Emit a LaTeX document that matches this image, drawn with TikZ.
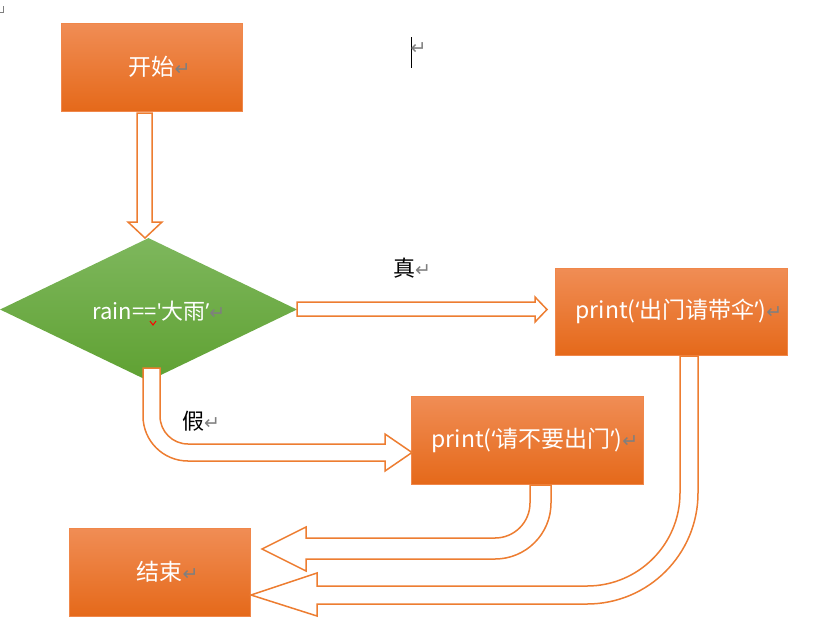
\documentclass[tikz,border=0pt]{standalone}
\usepackage{fontspec}
\setmainfont{Noto Sans CJK SC}
\newfontfamily\qf{Open Sans}
\newfontfamily\symf{DejaVu Sans}
\usetikzlibrary{shapes.geometric}
\definecolor{boxtop}{HTML}{F08D55}
\definecolor{boxmid}{HTML}{F37C28}
\definecolor{boxbot}{HTML}{E5691A}
\definecolor{boxline}{HTML}{F0874A}
\definecolor{greentop}{HTML}{7EB75D}
\definecolor{greenbot}{HTML}{5FA132}
\definecolor{arrline}{HTML}{ED7D31}
\definecolor{retgray}{HTML}{7F7F7F}
\newcommand\retmark{\rlap{{\symf\color{retgray}\fontsize{19}{19}\selectfont ↵}}}
\newcommand\myLq{{\qf ‘}}
\newcommand\myRq{{\qf ’}}
\tikzset{
  flowbox/.style={rectangle, draw=boxline, line width=0.8pt, top color=boxtop, middle color=boxmid, bottom color=boxbot, text=white, font=\fontsize{23}{26}\selectfont, inner sep=0pt},
  decision/.style={diamond, draw=none, top color=greentop, bottom color=greenbot, inner sep=0pt, minimum width=297pt, minimum height=143pt},
  blockarrow/.style={draw=arrline, fill=white, line width=1.5pt, line join=miter},
  lbl/.style={text=black, font=\fontsize{22}{26}\selectfont, inner sep=0pt}
}
\begin{document}
\begin{tikzpicture}[x=1pt,y=-1pt]
\useasboundingbox (0,0) rectangle (832,641);
% nodes
\node[flowbox, minimum width=181pt, minimum height=88pt] (start) at (151.5,67) {开始\retmark};
\node[decision] (cond) at (148.5,309.5) {};
\node[inner sep=0pt, text=white, font=\fontsize{22}{24}\selectfont] (condtext) at (151,311) {rain=={\qf '}大雨\myRq\retmark};
\node[flowbox, minimum width=232pt, minimum height=87pt] (yes) at (671,311.5) {print(\myLq 出门请带伞\myRq)\retmark};
\node[flowbox, minimum width=232pt, minimum height=88pt] (no) at (527,440) {print(\myLq 请不要出门\myRq)\retmark};
\node[flowbox, minimum width=181pt, minimum height=88pt] (stop) at (159.5,572) {结束\retmark};
\node[lbl] (ltrue) at (404,268) {真\retmark};
\node[lbl] (lfalse) at (193,421) {假\retmark};
% block arrows
\draw[blockarrow] (137,113) -- (152,113) -- (152,222) -- (162,222) -- (145,238) -- (128,222) -- (137,222) -- cycle;
\draw[blockarrow] (297,302) -- (535,302) -- (535,297) -- (547,309.5) -- (535,322) -- (535,316) -- (297,316) -- cycle;
\draw[blockarrow] (143,368) -- (160,368) -- (160,416) arc(180:90:28) -- (385,444) -- (385,434) -- (412,452.5) -- (385,471) -- (385,461) -- (188,461) arc(90:180:45) -- cycle;
\draw[blockarrow] (530,485) -- (551,485) -- (551,503) arc(0:90:56) -- (306,559) -- (306,571) -- (262,549) -- (306,527) -- (306,538) -- (495,538) arc(90:0:35) -- cycle;
\draw[blockarrow] (680,356) -- (698,356) -- (698,493) arc(0:90:111) -- (317,604) -- (317,616) -- (251,595) -- (317,573) -- (317,586) -- (587,586) arc(90:0:93) -- cycle;
% editor marks
\coordinate (c1) at (411,37);
\coordinate (c2) at (411,68);
\draw[black, line width=1pt] (c1) -- (c2);
\node[inner sep=0pt, anchor=west] (cret) at (410,49) {\retmark};
\draw[retgray, line width=1pt] (0,12) -- (3.5,12) -- (3.5,6);
\draw[red, line width=1pt] (150,321) -- (153,325) -- (156,321);
\end{tikzpicture}
\end{document}
